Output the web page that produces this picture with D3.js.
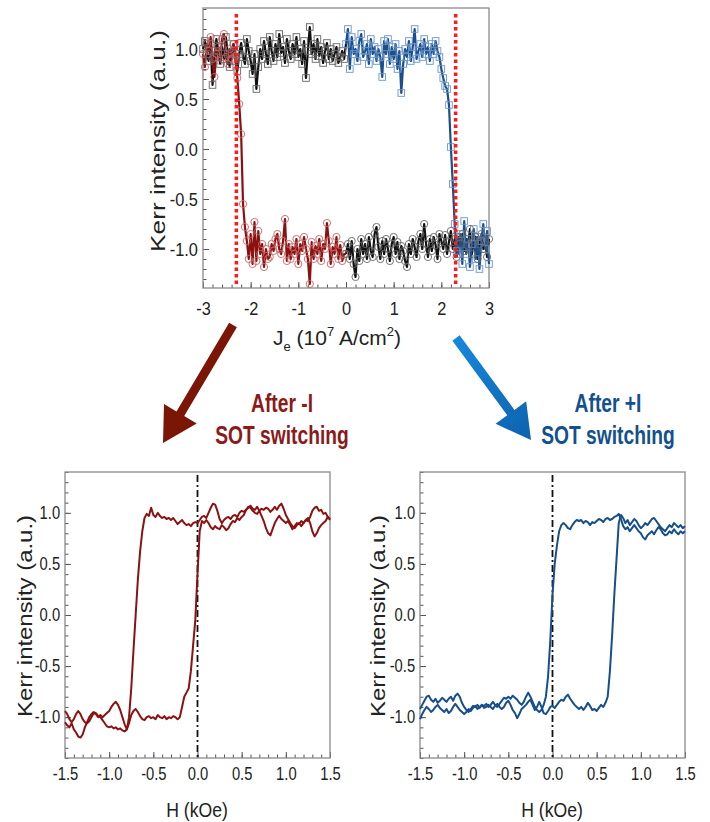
<!DOCTYPE html>
<html><head><meta charset="utf-8">
<script src="https://cdn.jsdelivr.net/npm/d3@7"></script>
<style>
html,body{margin:0;padding:0;background:#fff;}
svg{display:block;}
</style></head><body>
<svg id="chart" width="710" height="822"></svg>
<script>
// ---------------- DATA ----------------
// Top panel: Kerr intensity vs current density J_e (10^7 A/cm^2), grid start/step
const topStart = -3, topStep = 0.04;
const topXTicks = [-3, -2, -1, 0, 1, 2, 3];
const topYTicks = [-1.0, -0.5, 0.0, 0.5, 1.0];
const criticalJ = [-2.3, 2.3];
// circle branch (red for J<0, black for J>0)
const circleBranch = [
  0.95,0.82,1.05,0.98,1.12,0.9,0.72,0.95,1.02,0.88,1.1,1.15,0.92,0.85,1.0,0.9,1.05,0.93,
  0.71,0.45,0.15,-0.55,-0.78,-0.92,
  -1.1,-0.85,-1.15,-0.73,-1.12,-0.82,-1.05,-0.95,-1.18,-1.0,
  -1.1,-1.08,-0.95,-1.02,-0.9,-0.85,-1.0,-1.05,-0.92,-0.7,
  -1.12,-0.95,-1.1,-0.98,-1.05,-0.9,-1.15,-0.95,-1.02,-0.88,
  -1.0,-1.1,-1.35,-0.93,-1.1,-0.97,-1.05,-0.9,-1.12,-0.95,
  -1.0,-0.74,-0.92,-1.15,-0.98,-1.05,-0.88,-1.1,-0.96,-1.12,
  -1.05,
  -1.05,-0.95,-1.1,-0.92,-1.15,-1.28,-1.0,-1.12,-0.9,-1.05,
  -0.95,-1.1,-0.88,-1.02,-1.08,-0.85,-0.78,-0.98,-1.1,-0.92,
  -1.05,-0.9,-1.0,-1.12,-0.95,-0.88,-1.05,-0.93,-1.1,-0.97,
  -1.02,-1.12,-1.18,-0.95,-1.05,-0.9,-0.98,-1.08,-0.92,-0.85,
  -1.0,-0.75,-0.95,-1.08,-0.9,-1.02,-0.88,-0.96,-1.1,-0.85,
  -0.92,-1.0,-0.86,-1.05,-0.93,-0.82,-1.0,-0.9,-1.08,-0.88,
  -0.95,-0.85,-1.02,-0.9,-0.97,-0.8,-1.05,-0.92,-0.88,-1.1,
  -0.95,-0.85,-1.0,-0.92,-1.08,-0.9
];
// square branch (black for J<0, blue for J>0)
const squareBranch = [
  1.0,1.08,0.95,0.88,1.05,0.64,0.92,1.1,0.98,0.85,
  1.02,0.9,1.12,0.95,0.82,0.96,1.05,0.88,0.78,0.95,
  1.06,0.92,0.85,1.1,0.98,0.88,0.75,0.95,0.6,0.82,
  1.0,0.9,1.08,0.95,0.85,1.12,0.98,0.88,1.05,0.92,
  1.15,0.96,1.02,0.86,1.1,0.98,0.9,1.05,0.95,1.12,
  0.92,1.0,0.85,1.08,0.71,0.98,1.22,0.95,1.05,0.9,
  1.1,0.93,1.02,0.86,0.98,1.06,0.9,1.0,0.88,0.95,
  1.02,0.86,0.92,0.98,0.9,
  1.05,1.2,0.8,1.12,0.95,1.0,0.88,1.08,1.15,0.92,
  0.98,1.05,0.85,1.1,0.95,1.02,0.88,1.0,0.92,0.72,
  1.08,0.95,1.1,0.85,1.02,0.9,1.05,0.8,0.98,0.56,
  0.85,1.0,0.92,1.08,0.88,1.02,1.2,0.9,0.98,1.05,
  0.92,1.1,0.95,1.02,0.88,1.05,0.95,1.08,0.98,
  0.92,0.8,0.71,0.63,0.6,0.44,0.02,-0.35,-0.75,-1.02,
  -1.05,-0.85,-1.15,-0.72,-1.05,-0.9,-1.18,-0.95,-0.8,-1.1,
  -0.88,-1.2,-0.92,-0.75,-1.0,-0.82,-1.15
];

// Bottom panels: Kerr intensity vs H (kOe), grid start/step
const hStart = -1.5, hStep = 0.025;
const hTicks = [-1.5, -1.0, -0.5, 0.0, 0.5, 1.0, 1.5];
const kerrTicks = [-1.0, -0.5, 0.0, 0.5, 1.0];
// After -I (red): ascending and descending sweeps
const redUp = [
  -1.05,-1.08,-1.1,-1.06,-1.12,-1.15,-1.19,-1.2,-1.17,-1.1,
  -1.05,-1.0,-0.97,-0.95,-0.96,-0.99,-1.0,-1.03,-1.06,-1.09,
  -1.1,-1.09,-1.11,-1.1,-1.12,-1.11,-1.13,-1.14,-1.12,-1.06,
  -0.98,-0.94,-0.92,-0.95,-0.99,-1.02,-1.03,-1.0,-0.99,-1.01,
  -1.0,-1.02,-0.98,-1.0,-1.01,-0.99,-1.02,-1.0,-1.01,-0.99,
  -1.0,-1.02,-1.0,-0.9,-0.8,-0.76,-0.72,-0.55,-0.3,-0.05,
  0.4,0.82,0.92,0.9,0.93,0.9,0.86,0.84,0.87,0.85,
  0.84,0.88,0.86,0.83,0.85,0.89,0.92,0.91,0.95,0.93,
  0.96,0.98,1.03,1.05,1.07,1.04,1.03,1.06,1.02,0.97,
  0.92,0.85,0.8,0.78,0.84,0.9,0.94,0.97,0.94,0.92,
  0.9,0.92,0.88,0.84,0.87,0.9,0.89,0.92,0.9,0.93,
  0.95,0.9,0.82,0.77,0.8,0.85,0.88,0.9,0.92,0.96,
  0.93
];
const redDown = [
  -0.94,-0.97,-1.02,-1.05,-1.02,-0.97,-0.94,-0.97,-1.02,-1.05,
  -1.06,-1.04,-1.0,-0.96,-0.97,-1.0,-0.98,-1.0,-0.98,-0.96,
  -0.94,-0.9,-0.87,-0.85,-0.88,-0.93,-1.0,-1.07,-1.12,-1.0,
  -0.72,-0.35,0.0,0.35,0.62,0.82,0.95,0.99,0.97,1.05,
  0.98,0.96,1.0,0.97,0.95,0.96,0.94,0.95,0.93,0.95,
  0.92,0.89,0.91,0.93,0.9,0.88,0.89,0.87,0.9,0.91,
  0.9,0.93,0.96,0.97,0.95,1.0,1.05,1.09,1.08,1.02,
  0.94,0.9,0.93,0.95,0.96,0.94,0.97,0.98,0.96,1.0,
  1.02,1.01,1.03,1.06,1.05,1.02,1.0,0.99,1.02,1.04,
  1.03,1.05,1.04,1.01,1.03,1.06,1.03,1.07,1.09,1.04,
  0.98,0.94,0.9,0.87,0.85,0.88,0.9,0.87,0.9,0.93,
  0.92,0.96,1.02,1.05,1.06,1.02,1.03,0.99,1.0,0.96,
  0.94
];
// After +I (blue)
const blueUp = [
  -0.92,-0.88,-0.84,-0.8,-0.79,-0.83,-0.85,-0.82,-0.86,-0.84,
  -0.81,-0.83,-0.85,-0.82,-0.8,-0.84,-0.79,-0.77,-0.8,-0.86,
  -0.9,-0.93,-0.95,-0.92,-0.89,-0.9,-0.88,-0.91,-0.88,-0.89,
  -0.87,-0.9,-0.88,-0.85,-0.88,-0.9,-0.87,-0.84,-0.81,-0.82,
  -0.8,-0.82,-0.79,-0.81,-0.83,-0.86,-0.88,-0.85,-0.8,-0.76,
  -0.8,-0.85,-0.9,-0.93,-0.95,-0.93,-0.88,-0.8,-0.6,-0.25,
  0.2,0.5,0.68,0.82,0.88,0.9,0.88,0.85,0.84,0.88,
  0.91,0.93,0.92,0.93,0.9,0.92,0.91,0.88,0.91,0.9,
  0.92,0.94,0.93,0.91,0.94,0.95,0.93,0.94,0.96,0.97,
  0.99,0.94,0.87,0.84,0.86,0.82,0.85,0.88,0.85,0.82,
  0.8,0.76,0.74,0.78,0.8,0.82,0.79,0.83,0.86,0.84,
  0.8,0.78,0.79,0.82,0.8,0.84,0.81,0.79,0.82,0.8,
  0.82
];
const blueDown = [
  -1.02,-0.97,-0.93,-0.9,-0.92,-0.95,-0.93,-0.9,-0.88,-0.91,
  -0.93,-0.95,-0.92,-0.96,-0.94,-0.9,-0.87,-0.9,-0.93,-0.95,
  -0.97,-0.95,-0.92,-0.94,-0.91,-0.89,-0.92,-0.9,-0.88,-0.91,
  -0.9,-0.88,-0.9,-0.92,-0.89,-0.87,-0.9,-0.92,-0.9,-0.86,
  -0.84,-0.88,-0.93,-0.96,-1.01,-0.97,-0.92,-0.9,-0.88,-0.85,
  -0.83,-0.88,-0.93,-0.9,-0.85,-0.9,-0.96,-0.97,-0.94,-0.9,
  -0.89,-0.91,-0.88,-0.85,-0.83,-0.84,-0.8,-0.78,-0.82,-0.85,
  -0.88,-0.9,-0.92,-0.9,-0.93,-0.9,-0.86,-0.89,-0.93,-0.92,
  -0.94,-0.91,-0.88,-0.9,-0.86,-0.8,-0.55,-0.2,0.2,0.55,
  0.9,0.98,0.95,0.9,0.93,0.88,0.91,0.94,0.92,0.88,
  0.85,0.87,0.9,0.88,0.91,0.94,0.95,0.92,0.89,0.86,
  0.84,0.82,0.85,0.88,0.86,0.9,0.88,0.86,0.88,0.85,
  0.87
];

// ---------------- DRAWING ----------------
const SANS = '"Liberation Sans",Arial,sans-serif';
const RED = "#8b1212", BLUE = "#174e8c", TXT = "#222";
const svg = d3.select("#chart");

const toPts = (vals, start, step) => vals.map((v, i) => ({ x: +(start + step * i).toFixed(4), y: v }));

function axes(g, x, y, cfg) {
  const [yb, yt] = y.range();
  const [xl, xr] = x.range();
  const clean = a => a.select(".domain").remove();
  g.append("g").attr("transform", `translate(0,${yb})`).attr("color", "#555")
    .call(d3.axisBottom(x).tickValues(cfg.xMinor).tickSizeInner(-3.5).tickSizeOuter(0).tickFormat(() => ""))
    .call(clean);
  const gx = g.append("g").attr("transform", `translate(0,${yb})`).attr("color", "#555")
    .call(d3.axisBottom(x).tickValues(cfg.xMajor).tickSizeInner(-6).tickSizeOuter(0).tickPadding(cfg.xPad).tickFormat(cfg.xFmt))
    .call(clean);
  gx.selectAll("text").attr("font-family", SANS).attr("font-size", cfg.fs).attr("fill", TXT)
    .attr("transform", `scale(${cfg.sx},1)`);
  g.append("g").attr("transform", `translate(${xl},0)`).attr("color", "#555")
    .call(d3.axisLeft(y).tickValues(cfg.yMinor).tickSizeInner(-3.5).tickSizeOuter(0).tickFormat(() => ""))
    .call(clean);
  const gy = g.append("g").attr("transform", `translate(${xl},0)`).attr("color", "#555")
    .call(d3.axisLeft(y).tickValues(cfg.yMajor).tickSizeInner(-6).tickSizeOuter(0).tickPadding(cfg.yPad).tickFormat(v => v.toFixed(1)))
    .call(clean);
  gy.selectAll("text").attr("font-family", SANS).attr("font-size", cfg.fs).attr("fill", TXT)
    .attr("transform", `scale(${cfg.sx},1)`);
  g.append("rect").attr("x", xl).attr("y", yt).attr("width", xr - xl).attr("height", yb - yt)
    .attr("fill", "none").attr("stroke", "#8a8a8a").attr("stroke-width", 1.3);
}

function yTitle(x, y, len) {
  svg.append("text").attr("transform", `translate(${x},${y}) rotate(-90)`)
    .attr("text-anchor", "middle").attr("font-family", SANS).attr("font-size", 21)
    .attr("fill", TXT).attr("textLength", len).attr("lengthAdjust", "spacingAndGlyphs")
    .text("Kerr intensity (a.u.)");
}

// ---- Top panel ----
const xT = d3.scaleLinear([-3, 3], [203, 489]);
const yT = d3.scaleLinear([-1.39, 1.41], [288, 8]);
const gT = svg.append("g");
axes(gT, xT, yT, {
  xMinor: d3.range(-15, 16).map(v => v / 5), xMajor: topXTicks, xPad: 14, xFmt: v => String(v),
  yMinor: d3.range(-13, 15).map(v => v / 10), yMajor: topYTicks, yPad: 6, fs: 19, sx: 0.86
});
const circ = toPts(circleBranch, topStart, topStep);
const sq = toPts(squareBranch, topStart, topStep);
const lineT = d3.line().x(d => xT(d.x)).y(d => yT(d.y));
const segs = [
  { d: sq.filter(p => p.x <= 0), c: "#111" },
  { d: circ.filter(p => p.x >= 0), c: "#111" },
  { d: circ.filter(p => p.x <= 0), c: "#8b1010" },
  { d: sq.filter(p => p.x >= 0), c: "#1b4f8c" }
];
segs.forEach(s => gT.append("path").attr("d", lineT(s.d)).attr("fill", "none")
  .attr("stroke", s.c).attr("stroke-width", 2.2).attr("stroke-linejoin", "round"));
gT.selectAll("rect.sqm").data(sq).join("rect").attr("class", "sqm")
  .attr("x", d => xT(d.x) - 3.3).attr("y", d => yT(d.y) - 3.3).attr("width", 6.6).attr("height", 6.6)
  .attr("fill", "none").attr("stroke-width", 0.9)
  .attr("stroke", d => d.x < 0 ? "#666" : "#6a95cc");
gT.selectAll("circle.cm").data(circ).join("circle").attr("class", "cm")
  .attr("cx", d => xT(d.x)).attr("cy", d => yT(d.y)).attr("r", 3.6)
  .attr("fill", "none").attr("stroke-width", 0.9)
  .attr("stroke", d => d.x < 0 ? "#c86464" : "#666");
criticalJ.forEach(j => gT.append("line").attr("x1", xT(j)).attr("x2", xT(j)).attr("y1", 14).attr("y2", 286)
  .attr("stroke", "#ff1a1a").attr("stroke-width", 3.5).attr("stroke-dasharray", "3.5,3"));
yTitle(165, 141, 222);
const jt = svg.append("text").attr("x", 337).attr("y", 345).attr("text-anchor", "middle")
  .attr("font-family", SANS).attr("font-size", 21).attr("fill", TXT);
jt.append("tspan").text("J");
jt.append("tspan").attr("font-size", 13).attr("dy", 6).text("e");
jt.append("tspan").attr("dy", -6).text(" (10");
jt.append("tspan").attr("font-size", 13).attr("dy", -9).text("7");
jt.append("tspan").attr("dy", 9).text(" A/cm");
jt.append("tspan").attr("font-size", 13).attr("dy", -9).text("2");
jt.append("tspan").attr("dy", 9).text(")");

// ---- Arrows and annotations ----
const defs = svg.append("defs");
const grad = defs.append("linearGradient").attr("id", "bg").attr("gradientUnits", "userSpaceOnUse")
  .attr("x1", 456).attr("y1", 338).attr("x2", 531).attr("y2", 440);
grad.append("stop").attr("offset", 0).attr("stop-color", "#1787dc");
grad.append("stop").attr("offset", 1).attr("stop-color", "#0d62ae");
function arrow(x1, y1, x2, y2, sw, hl, hw, fill) {
  const dx = x2 - x1, dy = y2 - y1, L = Math.hypot(dx, dy), ux = dx / L, uy = dy / L, px = -uy, py = ux;
  const bx = x2 - ux * hl, by = y2 - uy * hl;
  const p = [[x1 + px * sw / 2, y1 + py * sw / 2], [bx + px * sw / 2, by + py * sw / 2], [bx + px * hw, by + py * hw],
    [x2, y2], [bx - px * hw, by - py * hw], [bx - px * sw / 2, by - py * sw / 2], [x1 - px * sw / 2, y1 - py * sw / 2]];
  svg.append("polygon").attr("points", p.map(q => q.join(",")).join(" ")).attr("fill", fill);
}
arrow(233, 325, 163, 443, 9, 34, 19, "#7b1506");
arrow(456, 338, 531, 440, 9, 34, 19, "url(#bg)");
function note(x, lines, color) {
  lines.forEach((t, i) => svg.append("text").attr("transform", `translate(${x},${412 + i * 32}) scale(0.74,1)`)
    .attr("text-anchor", "middle").attr("font-family", SANS).attr("font-weight", "bold")
    .attr("font-size", 26).attr("fill", color).text(t));
}
note(282, ["After -I", "SOT switching"], "#8b1a1a");
note(608, ["After +I", "SOT switching"], "#13508e");

// ---- Bottom panels ----
const yB = d3.scaleLinear([-1.4, 1.4], [758, 472]);
function bottomPanel(xr, up, down, color, titleX, labelX) {
  const x = d3.scaleLinear([-1.5, 1.5], xr);
  const g = svg.append("g");
  axes(g, x, yB, {
    xMinor: d3.range(-15, 16).map(v => v / 10), xMajor: hTicks, xPad: 9, xFmt: v => v.toFixed(1),
    yMinor: d3.range(-14, 15).map(v => v / 10), yMajor: kerrTicks, yPad: 6, fs: 18, sx: 0.82
  });
  g.append("line").attr("x1", x(0)).attr("x2", x(0)).attr("y1", yB.range()[1] + 3).attr("y2", yB.range()[0])
    .attr("stroke", "#111").attr("stroke-width", 1.8).attr("stroke-dasharray", "7,3,2,3");
  const ln = d3.line().x(d => x(d.x)).y(d => yB(d.y));
  [up, down].forEach(arr => g.append("path").attr("d", ln(toPts(arr, hStart, hStep)))
    .attr("fill", "none").attr("stroke", color).attr("stroke-width", 2).attr("stroke-linejoin", "round"));
  yTitle(titleX, 616, 202);
  svg.append("text").attr("transform", `translate(${labelX},817) scale(0.84,1)`).attr("text-anchor", "middle")
    .attr("font-family", SANS).attr("font-size", 21).attr("fill", TXT).text("H (kOe)");
}
bottomPanel([65, 330], redUp, redDown, RED, 32, 197);
bottomPanel([420, 685], blueUp, blueDown, BLUE, 385, 552);
</script></body></html>
